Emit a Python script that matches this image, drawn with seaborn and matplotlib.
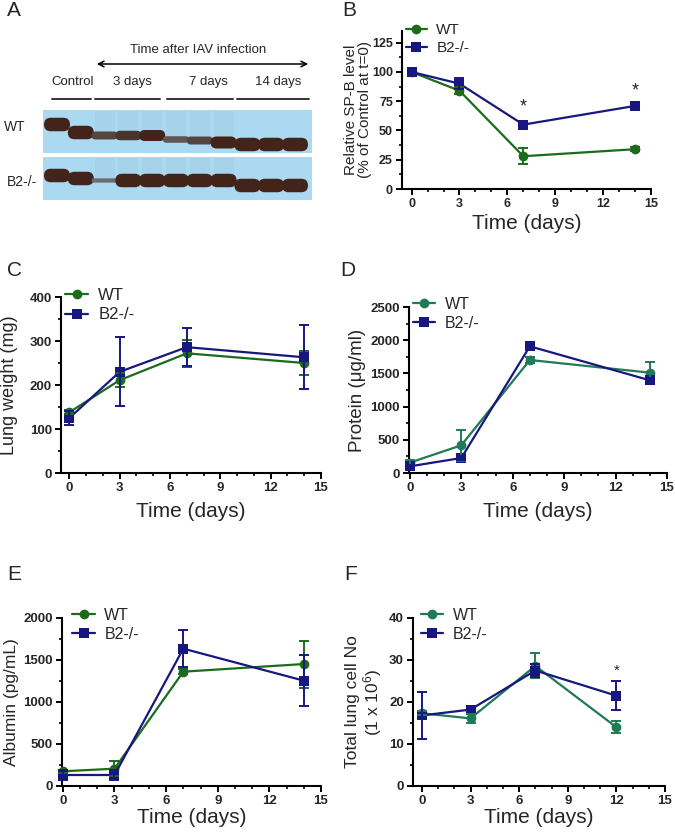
import numpy as np
import pandas as pd
import matplotlib
matplotlib.use("Agg")
import matplotlib.pyplot as plt
import seaborn as sns
from matplotlib.lines import Line2D
from matplotlib.patches import Rectangle, FancyBboxPatch
from matplotlib.colors import to_rgb
from matplotlib.ticker import MultipleLocator

# --- data ---
groups = ["WT", "B2-/-"]
days = [0, 3, 7, 14]
days_cells = [0, 3, 7, 12]

# B: relative SP-B level
spb_wt = [100, 84, 28, 34]
spb_wt_err = [1, 3, 7, 1.5]
spb_b2 = [100, 90, 55, 71]
spb_b2_err = [1, 4.5, 3.5, 3]
spb_star_days = [7, 14]
spb_star_y = [70, 84]

# C: lung weight (mg)
lung_wt = [138, 211, 272, 250]
lung_wt_err = [5, 16, 30, 28]
lung_b2 = [125, 230, 286, 263]
lung_b2_err = [16, 78, 43, 73]

# D: BAL protein (ug/ml)
prot_wt = [156, 417, 1702, 1511]
prot_wt_err = [40, 231, 45, 160]
prot_b2 = [100, 226, 1908, 1396]
prot_b2_err = [20, 30, 40, 40]

# E: albumin (pg/mL)
alb_wt = [175, 206, 1361, 1452]
alb_wt_err = [20, 90, 30, 280]
alb_b2 = [131, 131, 1635, 1254]
alb_b2_err = [56, 60, 222, 300]

# F: total lung cell number (x 10^6)
cells_wt = [17.3, 16.1, 28.6, 14.0]
cells_wt_err = [0.5, 1.0, 3.0, 1.4]
cells_b2 = [16.8, 18.2, 27.5, 21.5]
cells_b2_err = [5.7, 0.5, 1.5, 3.5]
cells_star_days = [12]
cells_star_y = [27.5]

# A: western blot band strength per lane (0..1)
blot_groups = ["Control", "3 days", "7 days", "14 days"]
blot_lanes = [2, 3, 3, 3]
wt_signal = [1.0, 1.0, 0.45, 0.6, 0.75, 0.3, 0.45, 0.85, 1.0, 1.0, 1.0]
b2_signal = [1.0, 1.0, 0.08, 1.0, 1.0, 1.0, 1.0, 1.0, 1.0, 1.0, 1.0]

# --- style ---
sns.set_style("ticks")
plt.rcParams["font.family"] = ["Liberation Sans", "DejaVu Sans"]
plt.rcParams["mathtext.default"] = "regular"

BLUE = "#17177f"
GREEN = "#1c6b1c"
TEAL = "#1f7a55"

W, H = 675, 836
fig = plt.figure(figsize=(W / 100, H / 100), dpi=100)


def add_axes_px(l, t, r, b):
    return fig.add_axes([l / W, 1 - b / H, (r - l) / W, (b - t) / H])


# overlay for panel A and panel letters
ov = fig.add_axes([0, 0, 1, 1])
ov.set_xlim(0, W)
ov.set_ylim(H, 0)
ov.axis("off")

for letter, (lx, ly) in zip("ABCDEF", [(14, 11), (349, 11), (15, 271), (348, 271), (14, 575), (351, 575)]):
    ov.text(lx, ly, letter, fontsize=15, ha="center", va="center")

# blot
blot_l, blot_r = 43, 312
strips = {"WT": (110, 153), "B2-/-": (157, 200)}
BG = "#abd9f1"
band_col = "#42241a"
for top, bot in strips.values():
    ov.add_patch(Rectangle((blot_l, top), blot_r - blot_l, bot - top, color=BG, lw=0, zorder=2))

lane_x = np.linspace(57, 295, sum(blot_lanes))
lane_group = np.repeat(np.arange(len(blot_lanes)), blot_lanes)
wt_drift = [[-7, 1], [4, 4, 4], [8, 9, 11], [13, 13, 13]]
b2_drift = [[-3, 0], [2, 2, 2], [2, 2, 2], [7, 7, 7]]
bg_rgb, band_rgb = np.array(to_rgb(BG)), np.array(to_rgb(band_col))
for signal, (top, bot), drift in [(wt_signal, strips["WT"], wt_drift),
                                  (b2_signal, strips["B2-/-"], b2_drift)]:
    flat = [d for grp in drift for d in grp]
    mid = (top + bot) / 2
    for i, (x, s) in enumerate(zip(lane_x, signal)):
        h = 3.5 + 10 * s
        y = mid + flat[i]
        if lane_group[i] in (1, 2):
            ov.add_patch(Rectangle((x - 10, top + 1), 20, y - top - 2, color=band_col,
                                   alpha=0.03, lw=0, zorder=3))
        a = min(1.0, 0.55 + 0.6 * s)
        col = bg_rgb * (1 - a) + band_rgb * a
        ov.add_patch(FancyBboxPatch((x - 13, y - h / 2), 26, h,
                                    boxstyle=f"round,pad=0,rounding_size={h / 2:.2f}",
                                    fc=col, ec="none", zorder=4))

ov.text(15, 127, "WT", fontsize=10, ha="center", va="center")
ov.text(22, 182, "B2-/-", fontsize=10, ha="center", va="center")

hdr_span = [(52, 91), (95, 160), (167, 233), (237, 309)]
hdr_x = [73, 132, 208, 278]
for name, (a, b), tx in zip(blot_groups, hdr_span, hdr_x):
    ov.plot([a, b], [99, 99], color="#333333", lw=1.4)
    ov.text(tx, 82, name, fontsize=9.5, ha="center", va="center")
ov.annotate("", xy=(311, 64), xytext=(94, 64),
            arrowprops=dict(arrowstyle="<->", color="black", lw=1.1))
ov.text(198, 50, "Time after IAV infection", fontsize=9.5, ha="center", va="center")


def panel(box, xlim, x, wt, wt_err, b2, b2_err, green, ylim, ystep, ylabel,
          ylab_x, leg_anchor, leg_fs, ylab_fs, xpad, tick_fs=9.5):
    ax = add_axes_px(*box)
    n = len(x)
    df = pd.DataFrame({"day": list(x) * 2, "value": list(wt) + list(b2),
                       "group": ["WT"] * n + ["B2-/-"] * n})
    pal = {"WT": green, "B2-/-": BLUE}
    sns.lineplot(data=df, x="day", y="value", hue="group", style="group",
                 hue_order=groups, style_order=groups, palette=pal,
                 markers={"WT": "o", "B2-/-": "s"}, dashes=False, markersize=7,
                 markeredgewidth=0, linewidth=1.6, legend=False, errorbar=None,
                 sort=False, ax=ax, clip_on=False, zorder=3)
    ax.errorbar(x, wt, yerr=wt_err, fmt="none", ecolor=green, elinewidth=1.4,
                capsize=3.5, capthick=1.4, zorder=4, clip_on=False)
    ax.errorbar(x, b2, yerr=b2_err, fmt="none", ecolor=BLUE, elinewidth=1.4,
                capsize=3.5, capthick=1.4, zorder=4, clip_on=False)
    ax.set_xlim(*xlim)
    ax.set_ylim(*ylim)
    ax.xaxis.set_minor_locator(MultipleLocator(1))
    ax.yaxis.set_minor_locator(MultipleLocator(ystep / 2))
    ax.set_yticks([t for t in np.arange(0, ylim[1] + 1e-9, ystep)])
    ax.set_xticks([0, 3, 6, 9, 12, 15])
    for s in ["top", "right"]:
        ax.spines[s].set_visible(False)
    for s in ["left", "bottom"]:
        ax.spines[s].set_linewidth(1.5)
        ax.spines[s].set_color("black")
    ax.tick_params(which="major", length=4.5, width=1.4, color="black",
                   labelsize=tick_fs, pad=2)
    ax.tick_params(which="minor", length=2.5, width=1.2, color="black")
    for lab in ax.get_xticklabels() + ax.get_yticklabels():
        lab.set_fontweight("bold")
    ax.set_xlabel("Time (days)", fontsize=15, labelpad=xpad)
    ax.set_ylabel(ylabel, fontsize=ylab_fs, linespacing=1.05)
    ax.yaxis.set_label_coords(ylab_x, 0.5)
    handles = [Line2D([], [], color=green, marker="o", markersize=7, lw=1.6, mew=0),
               Line2D([], [], color=BLUE, marker="s", markersize=7, lw=1.6, mew=0)]
    ax.legend(handles, groups, loc="upper left", bbox_to_anchor=leg_anchor,
              frameon=False, fontsize=leg_fs, handlelength=1.4, handletextpad=0.6,
              labelspacing=0.25, borderaxespad=0, borderpad=0)
    ax.set_facecolor("none")
    return ax


axB = panel((402, 31, 651, 189), (-0.6, 15), days, spb_wt, spb_wt_err, spb_b2, spb_b2_err,
            GREEN, (0, 135), 25, "Relative SP-B level\n(% of Control at t=0)",
            -0.12, (0.015, 1.05), 11, 11, 3, tick_fs=9)
for d, y in zip(spb_star_days, spb_star_y):
    axB.text(d, y, "*", fontsize=13, ha="center", va="center")

panel((61, 297, 321, 473), (-0.5, 15), days, lung_wt, lung_wt_err, lung_b2, lung_b2_err,
      GREEN, (0, 400), 100, "Lung weight (mg)", -0.165, (0.015, 1.05), 12, 13, 6)

panel((409, 307, 667, 473), (-0.05, 15), days, prot_wt, prot_wt_err, prot_b2, prot_b2_err,
      TEAL, (0, 2500), 500, "Protein (\u03bcg/ml)", -0.165, (0.015, 1.06), 11.5, 13.5, 6)

panel((62, 618, 321, 786), (-0.05, 15), days, alb_wt, alb_wt_err, alb_b2, alb_b2_err,
      GREEN, (0, 2000), 500, "Albumin (pg/mL)", -0.165, (0.04, 1.06), 11.5, 12.5, 1)

axF = panel((413, 618, 665, 786), (-0.55, 15), days_cells, cells_wt, cells_wt_err,
            cells_b2, cells_b2_err, TEAL, (0, 40), 10, "Total lung cell No\n(1 x 10$^6$)",
            -0.115, (0.03, 1.06), 11.5, 12.5, 1)
for d, y in zip(cells_star_days, cells_star_y):
    axF.text(d, y, "*", fontsize=11, ha="center", va="center")

fig.savefig("out.png", dpi=100)
